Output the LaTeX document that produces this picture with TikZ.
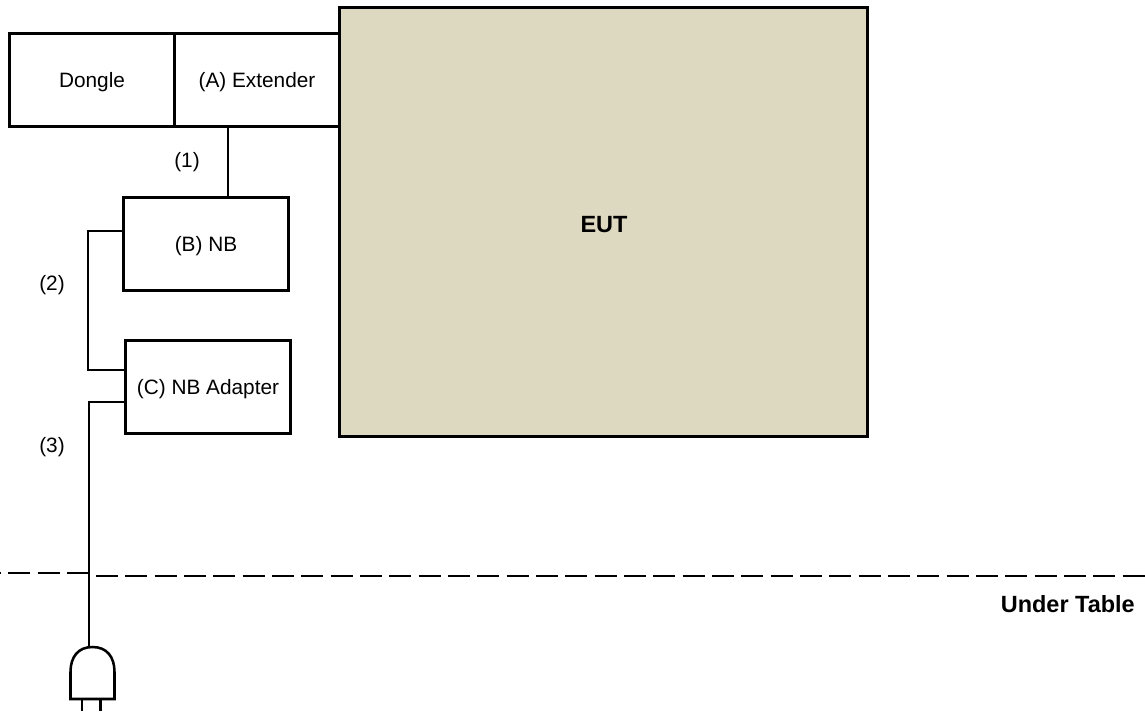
\documentclass[tikz,border=0pt]{standalone}
\usepackage{fontspec}
\usetikzlibrary{calc}
\setmainfont{Liberation Sans}
\definecolor{eutfill}{HTML}{DDD8C0}
\tikzset{
  x=0.75pt,y=-0.75pt,
  box/.style={draw=black,line width=2.25pt,fill=white,rectangle,inner sep=0pt,outer sep=0pt,anchor=north west},
  lbl/.style={font=\fontsize{15.6pt}{18pt}\selectfont,inner sep=0pt,text=black},
  boldlbl/.style={font=\fontsize{17.6pt}{20pt}\selectfont\bfseries,inner sep=0pt,text=black},
  wire/.style={draw=black,line width=1.5pt},
  plugline/.style={draw=black,line width=1.9pt},
}
\begin{document}
\begin{tikzpicture}
\useasboundingbox (0,0) rectangle (1145,711);
% dashed line
\draw[line width=1.7pt,dash pattern=on 16.5pt off 5.5pt] (-21,573) -- (88,573);
\draw[line width=2.1pt,dash pattern=on 16.5pt off 5.5pt] (96,576) -- (1145,576);
% boxes
\node[box,minimum width=528*0.75pt,minimum height=429*0.75pt,fill=eutfill] (eut) at (339.5,7.5) {};
\node[box,minimum width=165*0.75pt,minimum height=93*0.75pt,line width=1.6pt] (ext) at (174.5,33.5) {};
\node[box,minimum width=165*0.75pt,minimum height=93*0.75pt,fill=none] (dongle) at (9.5,33.5) {};
\draw[line width=2.25pt] (eut.north west) -- (eut.south west);
\node[box,minimum width=165*0.75pt,minimum height=93*0.75pt] (nb) at (123.5,197.5) {};
\node[box,minimum width=165*0.75pt,minimum height=93*0.75pt] (ad) at (125.5,340.5) {};
% labels
\node[lbl] (t1) at (92,82) {Dongle};
\node[lbl] (t2) at (257,82) {(A) Extender};
\node[lbl] (t3) at (206,246) {(B) NB};
\node[lbl] (t4) at (208,389) {(C) NB Adapter};
\node[lbl] (t5) at (187,162) {(1)};
\node[lbl] (t6) at (52,285) {(2)};
\node[lbl] (t7) at (52,447) {(3)};
\node[boldlbl] (t8) at (604,225) {EUT};
\node[boldlbl,anchor=east] (t9) at (1135,604) {Under Table};
% connectors
\coordinate (w1) at (228,0);
\draw[wire] (ext.south -| w1) -- (nb.north -| w1);
\draw[wire] ($(nb.west)+(0,-13.5)$) -- ++(-35.5,0) |- ($(ad.west)+(0,-17)$);
\coordinate (pt) at (89,647);
\draw[wire] ($(ad.west)+(0,15)$) -| (pt);
% plug
\draw[plugline] (70.5,699) -- (70.5,672) .. controls (70.5,657) and (78,647) .. (92.5,647) .. controls (107,647) and (114.5,657) .. (114.5,672) -- (114.5,699) -- cycle;
\draw[plugline] (82,699) -- (82,711);
\draw[plugline] (100.5,699) -- (100.5,711);
\end{tikzpicture}
\end{document}
